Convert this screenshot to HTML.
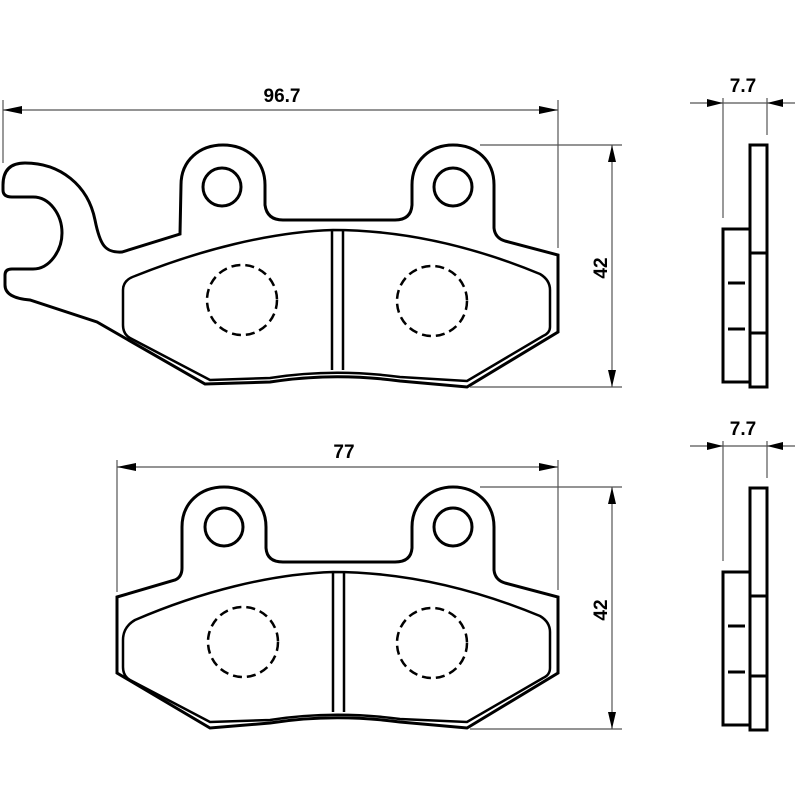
<!DOCTYPE html>
<html><head><style>html,body{margin:0;padding:0;background:#fff}svg{display:block}</style></head>
<body>
<svg width="800" height="800" viewBox="0 0 800 800" xmlns="http://www.w3.org/2000/svg" font-family="Liberation Sans, sans-serif">
<defs>
<g id="sv">
<rect x="723" y="229" width="27" height="153" fill="none" stroke="#000" stroke-width="3"/>
<rect x="750" y="145" width="17" height="242" fill="none" stroke="#000" stroke-width="3"/>
<line x1="750" y1="253" x2="767" y2="253" stroke="#000" stroke-width="3"/>
<line x1="750" y1="333" x2="767" y2="333" stroke="#000" stroke-width="3"/>
<line x1="728" y1="283" x2="745" y2="283" stroke="#000" stroke-width="3"/>
<line x1="728" y1="329" x2="745" y2="329" stroke="#000" stroke-width="3"/>
<line x1="690" y1="103" x2="795" y2="103" stroke="#555" stroke-width="1.2"/>
<line x1="723" y1="98" x2="723" y2="218" stroke="#555" stroke-width="1.2"/>
<line x1="767" y1="98" x2="767" y2="135" stroke="#555" stroke-width="1.2"/>
<polygon points="723,103 707,99 707,107" fill="#000"/>
<polygon points="767,103 783,99 783,107" fill="#000"/>
<text x="743" y="92" font-size="19" font-weight="bold" text-anchor="middle">7.7</text>
</g>
<g id="vd">
<line x1="480" y1="145" x2="622" y2="145" stroke="#555" stroke-width="1.2"/>
<line x1="470" y1="387" x2="622" y2="387" stroke="#555" stroke-width="1.2"/>
<line x1="612" y1="145" x2="612" y2="387" stroke="#555" stroke-width="1.2"/>
<polygon points="612,145 608,162 616,162" fill="#000"/>
<polygon points="612,387 608,370 616,370" fill="#000"/>
<text transform="translate(607,268) rotate(-90)" font-size="19" font-weight="bold" text-anchor="middle">42</text>
</g>
</defs>

<path d="M3,185 Q3,163 25,163 C60,163 88,185 95,220 C100,245 105,253 122,252 L180,234 L181,185 C181,160 200,145 223,145 C246,145 265,160 265,185 L265,205 Q267,220 283,220 L395,220 Q411,220 412,205 L412,185 C412,160 431,145 453,145 C476,145 494,160 494,185 L494,228 Q495,238 505,241 L558,255 L558,332 L467,387 L400,381 Q333,372 270,382 L205,384 L97,322 L30,300 Q5,298 5,285 L5,275 Q5,269 12,269 L33,269 C50,269 62,250 62,233 C62,215 50,197 33,197 L12,197 Q3,197 3,190 Z" fill="none" stroke="#000" stroke-width="3"/>
<path d="M123,290 Q123,280 135,276 C200,250 270,232 333,230 C400,230 470,245 540,274 Q550,280 550,290 L550,327 Q550,333 543,336 L467,381 L400,377 Q333,368 270,378 L210,380 L130,338 Q123,334 123,325 Z" fill="none" stroke="#000" stroke-width="2.5"/>
<line x1="332" y1="230" x2="332" y2="370" stroke="#000" stroke-width="2.5"/>
<line x1="343" y1="230" x2="343" y2="370" stroke="#000" stroke-width="2.5"/>
<circle cx="222" cy="187" r="19" fill="none" stroke="#000" stroke-width="3"/>
<circle cx="453" cy="187" r="19" fill="none" stroke="#000" stroke-width="3"/>
<circle cx="242" cy="300" r="35" fill="none" stroke="#000" stroke-width="2.5" stroke-dasharray="9,5"/>
<circle cx="432" cy="301" r="35" fill="none" stroke="#000" stroke-width="2.5" stroke-dasharray="9,5"/>
<line x1="3" y1="110" x2="558" y2="110" stroke="#555" stroke-width="1.2"/>
<line x1="3" y1="100" x2="3" y2="163" stroke="#555" stroke-width="1.2"/>
<line x1="558" y1="100" x2="558" y2="248" stroke="#555" stroke-width="1.2"/>
<polygon points="3,110 22,106 22,114" fill="#000"/>
<polygon points="558,110 539,106 539,114" fill="#000"/>
<text x="282" y="102" font-size="19" font-weight="bold" text-anchor="middle">96.7</text>
<use href="#vd"/>
<use href="#sv"/>

<path d="M117,597 L175,580 Q182,577 182,568 L182,527 C182,503 200,487 224,487 C247,487 266,503 266,527 L266,548 Q267,562 283,562 L395,562 Q411,562 412,548 L412,527 C412,503 431,487 453,487 C476,487 494,503 494,527 L494,570 Q495,580 505,583 L558,597 L558,673 L467,728 L400,722 Q333,713 270,723 L210,728 L117,673 Z" fill="none" stroke="#000" stroke-width="3"/>
<path d="M123,640 Q123,627 135,620 C200,592 270,574 333,572 C400,572 470,587 540,616 Q550,622 550,632 L550,668 Q550,675 543,678 L467,722 L400,719 Q333,710 270,720 L210,722 L130,680 Q123,676 123,667 Z" fill="none" stroke="#000" stroke-width="2.5"/>
<line x1="333" y1="572" x2="333" y2="712" stroke="#000" stroke-width="2.5"/>
<line x1="344" y1="572" x2="344" y2="712" stroke="#000" stroke-width="2.5"/>
<circle cx="224" cy="527" r="19" fill="none" stroke="#000" stroke-width="3"/>
<circle cx="453" cy="527" r="19" fill="none" stroke="#000" stroke-width="3"/>
<circle cx="243" cy="642" r="35" fill="none" stroke="#000" stroke-width="2.5" stroke-dasharray="9,5"/>
<circle cx="432" cy="643" r="35" fill="none" stroke="#000" stroke-width="2.5" stroke-dasharray="9,5"/>
<line x1="117" y1="467" x2="558" y2="467" stroke="#555" stroke-width="1.2"/>
<line x1="117" y1="460" x2="117" y2="592" stroke="#555" stroke-width="1.2"/>
<line x1="558" y1="460" x2="558" y2="590" stroke="#555" stroke-width="1.2"/>
<polygon points="117,467 136,463 136,471" fill="#000"/>
<polygon points="558,467 539,463 539,471" fill="#000"/>
<text x="344" y="458" font-size="19" font-weight="bold" text-anchor="middle">77</text>
<use href="#vd" transform="translate(0,342)"/>
<use href="#sv" transform="translate(0,343)"/>
</svg>
</body></html>
